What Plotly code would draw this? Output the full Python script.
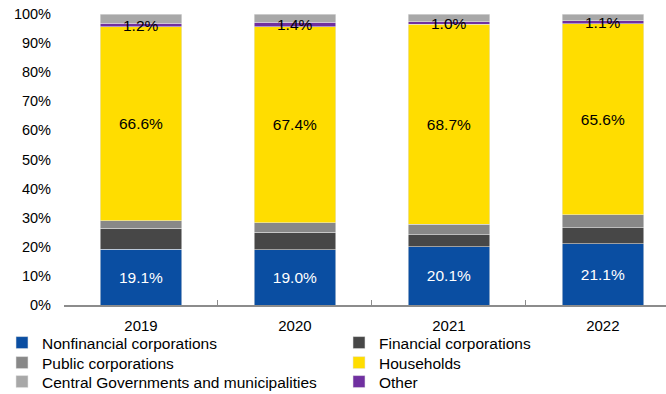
import plotly.graph_objects as go

years = ["2019", "2020", "2021", "2022"]

nonfinancial = [19.1, 19.0, 20.1, 21.1]
financial = [7.3, 6.0, 4.0, 5.5]
public = [2.6, 3.3, 3.6, 4.4]
households = [66.6, 67.4, 68.7, 65.6]
other = [1.2, 1.4, 1.0, 1.1]
central_gov = [3.2, 2.9, 2.6, 2.3]

y_ticks = list(range(0, 101, 10))
y_tick_labels = [f"{v}%" for v in y_ticks]

FONT = "Liberation Sans, Arial, sans-serif"
LABEL_SIZE = 15.5


def pct(values):
    return [f"{v:.1f}%" for v in values]


# stacking order bottom -> top; each series gets its own one-entry legend
# so the legend grid (2 columns x 3 rows) can be laid out exactly
series = [
    ("Nonfinancial corporations", nonfinancial, "#0A4EA2", pct(nonfinancial), "white", "legend"),
    ("Financial corporations", financial, "#474747", None, None, "legend2"),
    ("Public corporations", public, "#888888", None, None, "legend3"),
    ("Households", households, "#FFDD00", pct(households), "black", "legend4"),
    ("Other", other, "#7030A0", None, None, "legend6"),
    ("Central Governments and municipalities", central_gov, "#A8A8A8", None, None, "legend5"),
]

fig = go.Figure()
for name, vals, color, text, tcolor, leg in series:
    fig.add_trace(go.Bar(
        x=years,
        y=vals,
        name=name,
        marker=dict(color=color, line=dict(color="rgba(230,230,230,0.8)", width=0.7)),
        text=text,
        textposition="inside" if text else "none",
        insidetextanchor="middle",
        textangle=0,
        textfont=dict(family=FONT, size=LABEL_SIZE, color=tcolor or "black"),
        legend=leg,
        hoverinfo="name+y",
    ))

# labels for the thin "Other" band, centred on its segment
# (x given as category index so numeric-looking names are not misread)
below_other = [a + b + c + d for a, b, c, d in zip(nonfinancial, financial, public, households)]
for i, (base, val) in enumerate(zip(below_other, other)):
    fig.add_annotation(
        x=i, y=base + val / 2, xref="x", yref="y",
        text=f"{val:.1f}%", showarrow=False,
        font=dict(family=FONT, size=LABEL_SIZE, color="black"),
    )

H = 394
W = 666
col_x = [2, 339]          # left edge of each legend column, px
row_y = [343, 363, 382]   # centre line of each legend row, px


def legend_at(col, row):
    return dict(
        orientation="v",
        xref="container",
        yref="container",
        x=col_x[col] / W,
        y=(H - row_y[row]) / H,
        xanchor="left",
        yanchor="middle",
        itemwidth=30,
        bgcolor="rgba(0,0,0,0)",
        font=dict(family=FONT, size=LABEL_SIZE, color="black"),
    )


fig.update_layout(
    barmode="stack",
    bargap=0.47,
    width=W,
    height=H,
    margin=dict(l=64, r=0, t=14, b=89, autoexpand=False),
    plot_bgcolor="white",
    paper_bgcolor="white",
    font=dict(family=FONT, size=14, color="black"),
    uniformtext=dict(minsize=LABEL_SIZE, mode="show"),
    xaxis=dict(
        type="category",
        range=[-0.5, 3.41],
        showline=True,
        linecolor="#8C8C8C",
        linewidth=2,
        ticks="inside",
        tickson="boundaries",
        ticklen=5,
        tickcolor="#8C8C8C",
        tickwidth=1,
        showgrid=False,
        ticklabelstandoff=6,
        tickfont=dict(family=FONT, size=15, color="black"),
    ),
    yaxis=dict(
        range=[0, 100],
        tickvals=y_ticks,
        ticktext=y_tick_labels,
        showgrid=False,
        zeroline=False,
        showline=False,
        ticks="",
        ticklabelstandoff=12,
        tickfont=dict(family=FONT, size=14.5, color="black"),
    ),
    legend=legend_at(0, 0),
    legend2=legend_at(1, 0),
    legend3=legend_at(0, 1),
    legend4=legend_at(1, 1),
    legend5=legend_at(0, 2),
    legend6=legend_at(1, 2),
    showlegend=True,
)

fig.write_html("out.html")
